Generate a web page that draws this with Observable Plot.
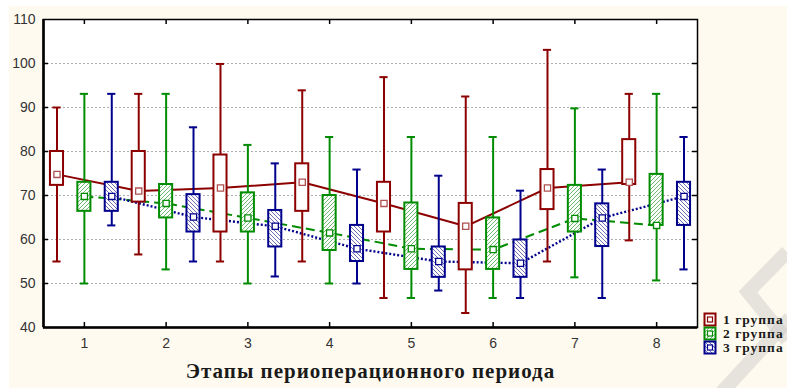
<!DOCTYPE html>
<html><head><meta charset="utf-8">
<script src="https://cdn.jsdelivr.net/npm/d3@7"></script>
<script src="https://cdn.jsdelivr.net/npm/@observablehq/plot@0.6"></script>
<style>
body{margin:0;background:#fff;}
#wrap{position:relative;width:787px;height:388px;overflow:hidden;}
</style></head><body><div id="wrap"></div>
<script>
const stages = [1,2,3,4,5,6,7,8];
const groupNames = ["1 группа","2 группа","3 группа"];
const xTitle = "Этапы периоперационного периода";
const yTicks = [40,50,60,70,80,90,100,110];

// group 1
const g1Max = [90, 93.1, 99.9, 93.9, 96.9, 92.5, 103.1, 93.1];
const g1Q3  = [80, 80, 79.2, 77.2, 73, 68.2, 75.9, 82.7];
const g1Med = [74.8, 71, 71.7, 73, 68.2, 63, 71.7, 73];
const g1Q1  = [72.3, 68.5, 61.7, 66.4, 61.7, 53.1, 66.8, 72.5];
const g1Min = [55, 56.6, 55, 55, 46.7, 43.3, 55, 59.8];
// group 2
const g2Max = [93.1, 93.1, 81.5, 83.3, 83.3, 83.3, 89.8, 93.1];
const g2Q3  = [73, 72.5, 70.6, 70, 68.3, 64.9, 72.3, 74.8];
const g2Med = [69.8, 68.2, 64.9, 61.5, 57.9, 57.7, 64.8, 63.2];
const g2Q1  = [66.4, 64.9, 61.7, 57.5, 53.2, 53.2, 61.7, 63.2];
const g2Min = [50, 53.2, 50, 50, 46.7, 46.7, 51.4, 50.7];
// group 3
const g3Max = [93.1, 85.5, 77.3, 75.9, 74.5, 71.1, 75.9, 83.3];
const g3Q3  = [73, 70.2, 66.6, 63.2, 58.3, 59.9, 68.1, 73];
const g3Med = [69.8, 65.1, 63, 57.9, 55, 54.6, 64.9, 69.8];
const g3Q1  = [66.4, 61.7, 58.3, 55, 51.4, 51.4, 58.4, 63.2];
const g3Min = [63.2, 55, 51.6, 50, 48.4, 46.7, 46.7, 53.2];

const colors = ["#8c0000", "#008c00", "#00008c"];
const fills = ["white", "url(#hatchG)", "url(#hatchB)"];
const dashes = [null, "9,5", "2,2"];
const offsets = [-0.335, 0, 0.335];
const boxHW = 0.08, capHW = 0.05;

const series = [
  [g1Min, g1Q1, g1Med, g1Q3, g1Max],
  [g2Min, g2Q1, g2Med, g2Q3, g2Max],
  [g3Min, g3Q1, g3Med, g3Q3, g3Max]
];
const rows = [];
series.forEach((s, gi) => stages.forEach((st, si) => rows.push({
  g: gi, group: groupNames[gi], stage: st, pos: st + offsets[gi],
  min: s[0][si], q1: s[1][si], med: s[2][si], q3: s[3][si], max: s[4][si]
})));

const marks = [Plot.frame({fill: "white", stroke: null}),
  Plot.gridY(yTicks.filter(t => t > 40 && t < 110), {stroke: "#8a8a8a", strokeOpacity: 0.7, strokeDasharray: "2,2", strokeWidth: 1})];

[0,1,2].forEach(gi => {
  const d = rows.filter(r => r.g === gi);
  marks.push(Plot.line(d, {x: "pos", y: "med", stroke: colors[gi], strokeWidth: gi === 2 ? 2.4 : 2,
    strokeDasharray: dashes[gi], strokeLinecap: "butt"}));
});
[0,1,2].forEach(gi => {
  const d = rows.filter(r => r.g === gi);
  const c = colors[gi];
  marks.push(
    Plot.ruleX(d, {x: "pos", y1: "min", y2: "q1", stroke: c, strokeWidth: 2}),
    Plot.ruleX(d, {x: "pos", y1: "q3", y2: "max", stroke: c, strokeWidth: 2}),
    Plot.ruleY(d, {y: "min", x1: r => r.pos - capHW, x2: r => r.pos + capHW, stroke: c, strokeWidth: 2}),
    Plot.ruleY(d, {y: "max", x1: r => r.pos - capHW, x2: r => r.pos + capHW, stroke: c, strokeWidth: 2}),
    Plot.rect(d, {x1: r => r.pos - boxHW, x2: r => r.pos + boxHW, y1: "q1", y2: "q3", fill: fills[gi], stroke: c, strokeWidth: 2}),
    Plot.dot(d, {x: "pos", y: "med", symbol: "square", r: 3.5, fill: "white", stroke: gi === 0 ? "#b05050" : c, strokeWidth: 1.3})
  );
});

const tx = 5 / 81.75, ty = 5 / 4.4;
marks.push(
  Plot.frame({stroke: "black", strokeWidth: 1.5}),
  Plot.ruleX([0.5], {x: d => d, stroke: "black", strokeWidth: 2.6}),
  Plot.ruleY([40], {y: d => d, stroke: "black", strokeWidth: 2.6}),
  Plot.ruleX(stages, {x: d => d, y1: 40, y2: 40 + ty, stroke: "black", strokeWidth: 1.5}),
  Plot.ruleX(stages, {x: d => d, y1: 110, y2: 110 - ty, stroke: "black", strokeWidth: 1.5}),
  Plot.ruleY(yTicks.slice(1, -1), {y: d => d, x1: 0.5, x2: 0.5 + tx, stroke: "black", strokeWidth: 1.5}),
  Plot.ruleY(yTicks.slice(1, -1), {y: d => d, x1: 8.5, x2: 8.5 - tx, stroke: "black", strokeWidth: 1.5}),
  Plot.axisY(yTicks, {tickSize: 0, tickPadding: 8, fontSize: 14, fill: "#333"}),
  Plot.axisX(stages, {tickSize: 0, tickPadding: 11, fontSize: 14, fill: "#333", tickFormat: d => String(d)}),
  Plot.text([xTitle], {text: d => d, frameAnchor: "bottom", dy: 50, lineAnchor: "bottom", fontSize: 21, fontWeight: "bold",
    fontFamily: "'Liberation Serif', 'DejaVu Serif', serif", fill: "#1a1a1a"})
);

const plot = Plot.plot({
  width: 787, height: 388,
  marginLeft: 43, marginRight: 90, marginTop: 19, marginBottom: 61,
  style: {background: "transparent", fontFamily: "Arial, 'Liberation Sans', sans-serif", fontSize: "14px", overflow: "visible"},
  x: {domain: [0.5, 8.5], label: null},
  y: {domain: [40, 110], label: null},
  marks
});

const svg = d3.select(plot);
svg.selectAll("text").filter(function() { return this.textContent === xTitle; }).attr("letter-spacing", 1);
// cream background
svg.insert("rect", ":first-child").attr("x", 9).attr("y", 6).attr("width", 787).attr("height", 388).attr("fill", "#fffaef");
const defs = svg.insert("defs", ":first-child");
const pg = defs.append("pattern").attr("id", "hatchG").attr("patternUnits", "userSpaceOnUse").attr("width", 4).attr("height", 4);
pg.append("rect").attr("width", 4).attr("height", 4).attr("fill", "white");
pg.append("path").attr("d", "M-1,1 l2,-2 M0,4 l4,-4 M3,5 l2,-2").attr("stroke", "#6fb86f").attr("stroke-width", 1);
const pb = defs.append("pattern").attr("id", "hatchB").attr("patternUnits", "userSpaceOnUse").attr("width", 4).attr("height", 4);
pb.append("rect").attr("width", 4).attr("height", 4).attr("fill", "white");
pb.append("path").attr("d", "M-1,3 l2,2 M0,0 l4,4 M3,-1 l2,2").attr("stroke", "#6f6fb8").attr("stroke-width", 1);

// watermark (faint)
const wm = svg.append("g").attr("fill", "none").attr("stroke", "#c8c8c8").attr("stroke-opacity", 0.45).attr("stroke-width", 14);
wm.append("path").attr("d", "M787,252 L748,292 L787,340");
wm.append("path").attr("d", "M722,392 L790,318");

// legend
const lg = svg.append("g").attr("transform", "translate(704,313)").attr("text-anchor", "start");
groupNames.forEach((name, i) => {
  const y = i * 14;
  lg.append("rect").attr("x", 0.5).attr("y", y + 0.5).attr("width", 11).attr("height", 12)
    .attr("fill", fills[i]).attr("stroke", colors[i]).attr("stroke-width", 2);
  lg.append("rect").attr("x", 3.5).attr("y", y + 4).attr("width", 5).attr("height", 5)
    .attr("fill", "white").attr("stroke", colors[i]).attr("stroke-width", 1.2);
  lg.append("text").attr("x", 19).attr("y", y + 11).text(name)
    .attr("text-anchor", "start")
    .attr("font-family", "'Liberation Serif', 'DejaVu Serif', serif").attr("font-weight", "bold")
    .attr("font-size", 13.5).attr("fill", "#1a1a1a").attr("letter-spacing", 1);
});

document.getElementById("wrap").appendChild(plot);
</script></body></html>
